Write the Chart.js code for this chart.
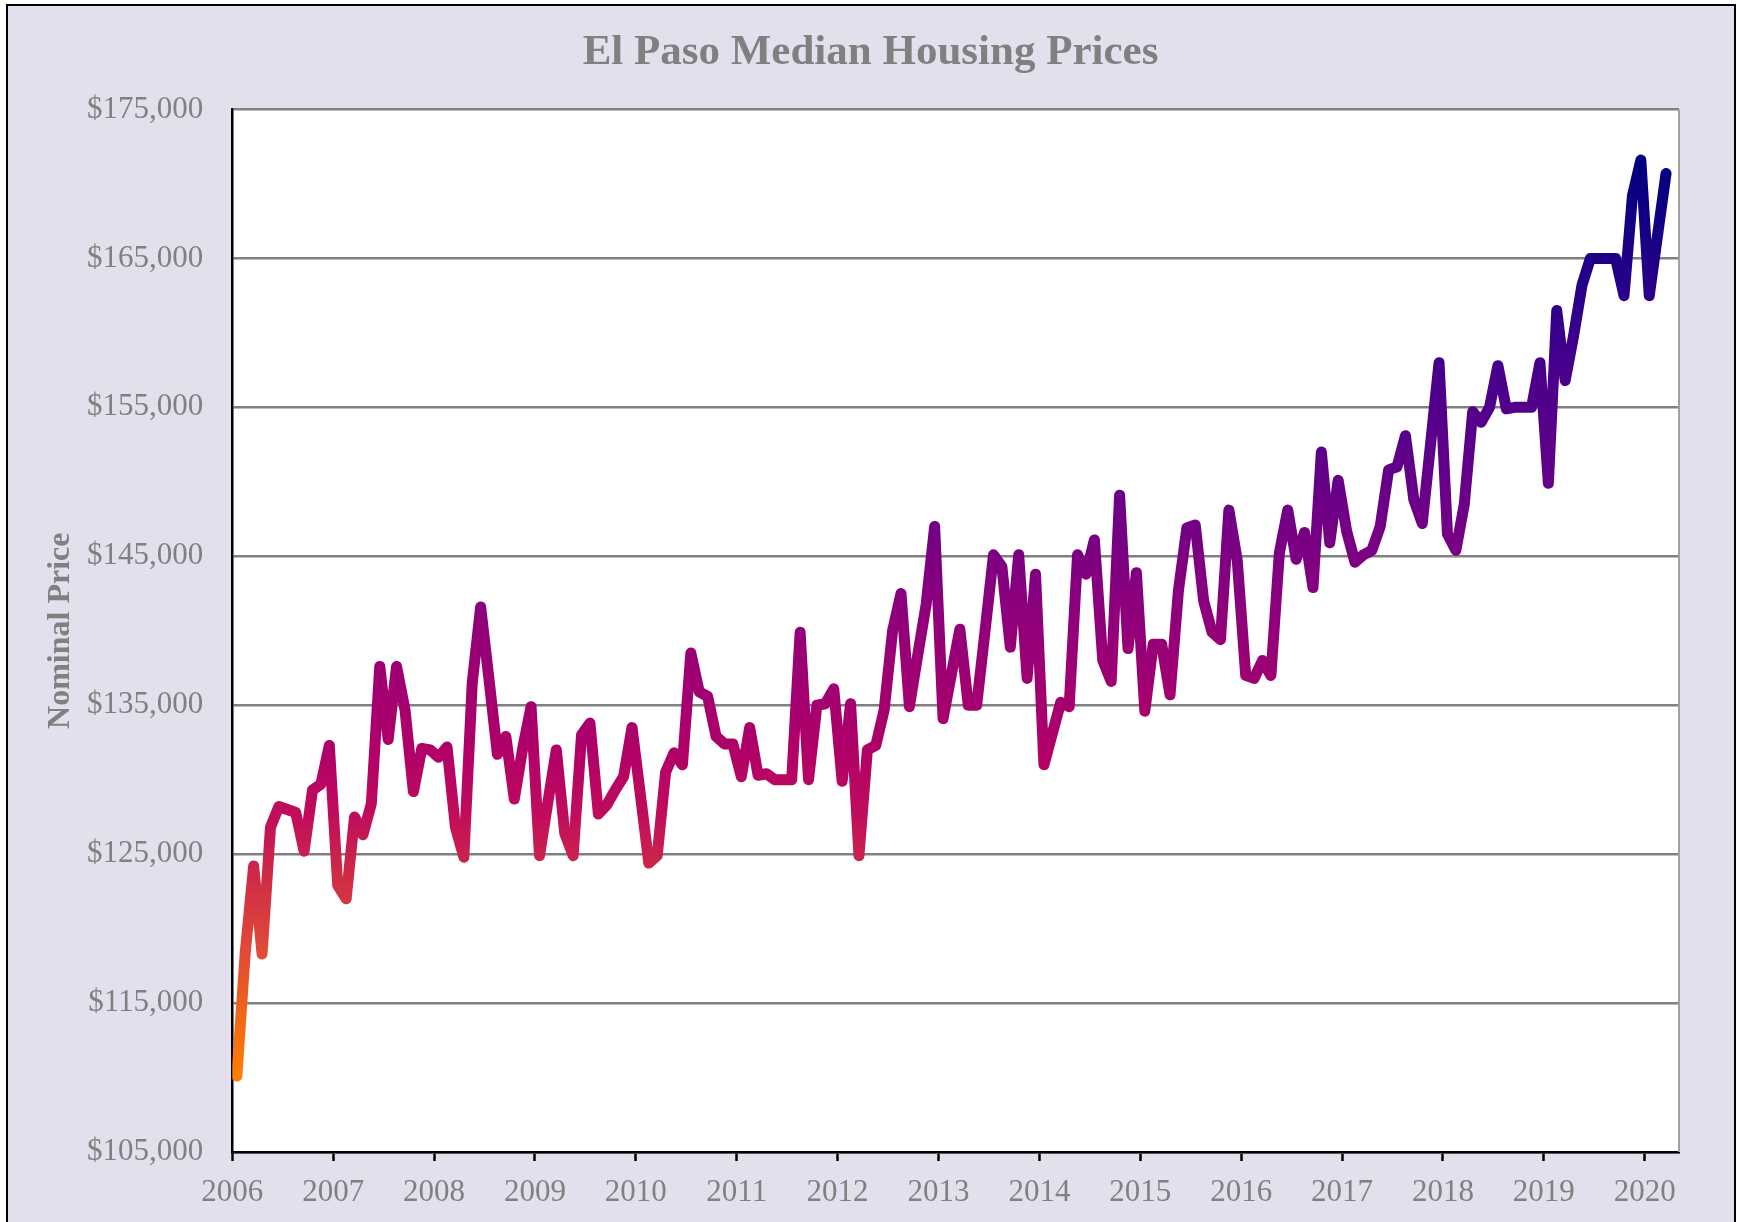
<!DOCTYPE html>
<html>
<head>
<meta charset="utf-8">
<script src="https://cdn.jsdelivr.net/npm/chart.js@4"></script>
<style>
  body { margin: 0; background: #ffffff; }
  canvas { display: block; }
</style>
</head>
<body>
<canvas id="myChart" width="1737" height="1222"></canvas>
<script>
// monthly median prices, starting January 2006
var startYear = 2006;
var prices = [
  110100, 118400, 124200, 118300, 126800, 128200, 128000, 127800, 125200, 129300, 129700, 132300, // 2006
  122900, 122000, 127500, 126300, 128400, 137600, 132700, 137600, 134700, 129200, 132100, 132000, // 2007
  131500, 132200, 126800, 124800, 136500, 141600, 136700, 131700, 132900, 128700, 132100, 134900, // 2008
  124900, 128500, 132000, 126400, 124900, 133000, 133800, 127700, 128300, 129300, 130200, 133500, // 2009
  129000, 124400, 124900, 130500, 131800, 131000, 138500, 135900, 135600, 132900, 132400, 132400, // 2010
  130200, 133500, 130300, 130400, 130000, 130000, 130000, 139900, 130000, 135000, 135100, 136100, // 2011
  129900, 135100, 124900, 132000, 132300, 134700, 140000, 142500, 134900, 138400, 141800, 147000, // 2012
  134100, 137100, 140100, 135000, 135000, 140000, 145100, 144300, 138900, 145100, 136800, 143800, // 2013
  131000, 133100, 135200, 134900, 145100, 143800, 146100, 138000, 136600, 149100, 138800, 143900, // 2014
  134600, 139100, 139100, 135700, 142700, 146900, 147100, 142000, 139900, 139400, 148100, 144700, // 2015
  137000, 136800, 138000, 137000, 145200, 148100, 144800, 146600, 142900, 152000, 145900, 150100, // 2016
  146700, 144600, 145100, 145400, 147000, 150800, 151000, 153100, 148800, 147200, 152600, 158000, // 2017
  146500, 145400, 148500, 154700, 154000, 155000, 157800, 154900, 155000, 155000, 155000, 158000, // 2018
  149900, 161500, 156800, 159800, 163200, 165000, 165000, 165000, 165000, 162500, 169200, 171600, // 2019
  162500, 166600, 170700                                                                          // 2020
];
var yTicks = [105000, 115000, 125000, 135000, 145000, 155000, 165000, 175000];
var xYears = [2006, 2007, 2008, 2009, 2010, 2011, 2012, 2013, 2014, 2015, 2016, 2017, 2018, 2019, 2020];
var chartTitle = 'El Paso Median Housing Prices';

// colour of the line depends on the price (low = orange, high = navy)
var colourStops = [
  [110000, '#ff8000'],
  [118800, '#e04838'],
  [124000, '#cc2848'],
  [127700, '#c00c5c'],
  [132000, '#b00068'],
  [137600, '#9c0074'],
  [141600, '#8c007c'],
  [149000, '#6a0088'],
  [158000, '#45008c'],
  [161500, '#30008a'],
  [171600, '#000080']
];

var serif = "'Liberation Serif', 'Times New Roman', serif";
var grey = '#808080';

var points = prices.map(function (p, i) {
  return { x: startYear + i / 12 + 0.045, y: p };
});

function lineGradient(context) {
  var chart = context.chart;
  if (!chart.chartArea) return colourStops[0][1];
  var y = chart.scales.y;
  var lo = colourStops[0][0];
  var hi = colourStops[colourStops.length - 1][0];
  var g = chart.ctx.createLinearGradient(0, y.getPixelForValue(lo), 0, y.getPixelForValue(hi));
  colourStops.forEach(function (s) {
    g.addColorStop((s[0] - lo) / (hi - lo), s[1]);
  });
  return g;
}

// figure background, frame, white plot area and the title (centred on the whole figure)
var background = {
  id: 'background',
  beforeDraw: function (chart) {
    var ctx = chart.ctx, a = chart.chartArea;
    ctx.save();
    ctx.fillStyle = '#ffffff';
    ctx.fillRect(0, 0, chart.width, chart.height);
    ctx.fillStyle = '#e4dfec';
    ctx.fillRect(7, 5, chart.width - 9, chart.height);
    ctx.strokeStyle = '#000000';
    ctx.lineWidth = 2;
    ctx.strokeRect(7, 5, chart.width - 9, chart.height + 10);
    ctx.fillStyle = '#ffffff';
    ctx.fillRect(a.left, a.top, a.right - a.left, a.bottom - a.top);

    ctx.fillStyle = grey;
    ctx.font = 'bold 43px ' + serif;
    ctx.textAlign = 'center';
    ctx.textBaseline = 'alphabetic';
    ctx.fillText(chartTitle, chart.width / 2 + 2, 64);
    ctx.restore();
  },
  beforeDatasetsDraw: function (chart) {
    var ctx = chart.ctx, a = chart.chartArea;
    ctx.save();
    ctx.strokeStyle = '#a0a0a0';
    ctx.lineWidth = 2;
    ctx.beginPath();
    ctx.moveTo(a.right, a.top);
    ctx.lineTo(a.right, a.bottom);
    ctx.stroke();
    ctx.restore();
  }
};

var ctx = document.getElementById('myChart').getContext('2d');

var chart = new Chart(ctx, {
  type: 'line',
  data: {
    datasets: [{
      label: 'Median Price',
      data: points,
      borderColor: lineGradient,
      borderWidth: 11,
      borderJoinStyle: 'round',
      borderCapStyle: 'round',
      pointRadius: 0,
      tension: 0,
      fill: false
    }]
  },
  options: {
    responsive: false,
    animation: false,
    devicePixelRatio: 1,
    layout: { padding: { left: 0, right: 58, top: 109.5, bottom: 0 } },
    plugins: {
      legend: { display: false },
      tooltip: { enabled: false },
      title: { display: false }
    },
    scales: {
      x: {
        type: 'linear',
        min: xYears[0],
        max: 2020.34,
        afterFit: function (scale) { scale.height = 70; },
        afterBuildTicks: function (scale) {
          scale.ticks = xYears.map(function (v) { return { value: v }; });
        },
        ticks: {
          color: grey,
          font: { family: serif, size: 31 },
          padding: 13,
          maxRotation: 0,
          autoSkip: false,
          callback: function (v) { return String(v); }
        },
        grid: {
          drawOnChartArea: false,
          drawTicks: true,
          tickLength: 9,
          tickWidth: 2.5,
          tickColor: '#000000'
        },
        border: { color: '#000000', width: 2.5 }
      },
      y: {
        min: yTicks[0],
        max: yTicks[yTicks.length - 1],
        afterFit: function (scale) { scale.width = 232.3; },
        afterBuildTicks: function (scale) {
          scale.ticks = yTicks.map(function (v) { return { value: v }; });
        },
        ticks: {
          color: grey,
          font: { family: serif, size: 31 },
          padding: 29,
          callback: function (v) { return '$' + v.toLocaleString('en-US'); }
        },
        grid: {
          color: grey,
          lineWidth: 2.5,
          drawTicks: false
        },
        border: { color: '#000000', width: 2.5 },
        title: {
          display: true,
          text: 'Nominal Price',
          color: grey,
          font: { family: serif, size: 32, weight: 'bold' },
          padding: { top: 41.7, bottom: 0 }
        }
      }
    }
  },
  plugins: [background]
});
</script>
</body>
</html>
